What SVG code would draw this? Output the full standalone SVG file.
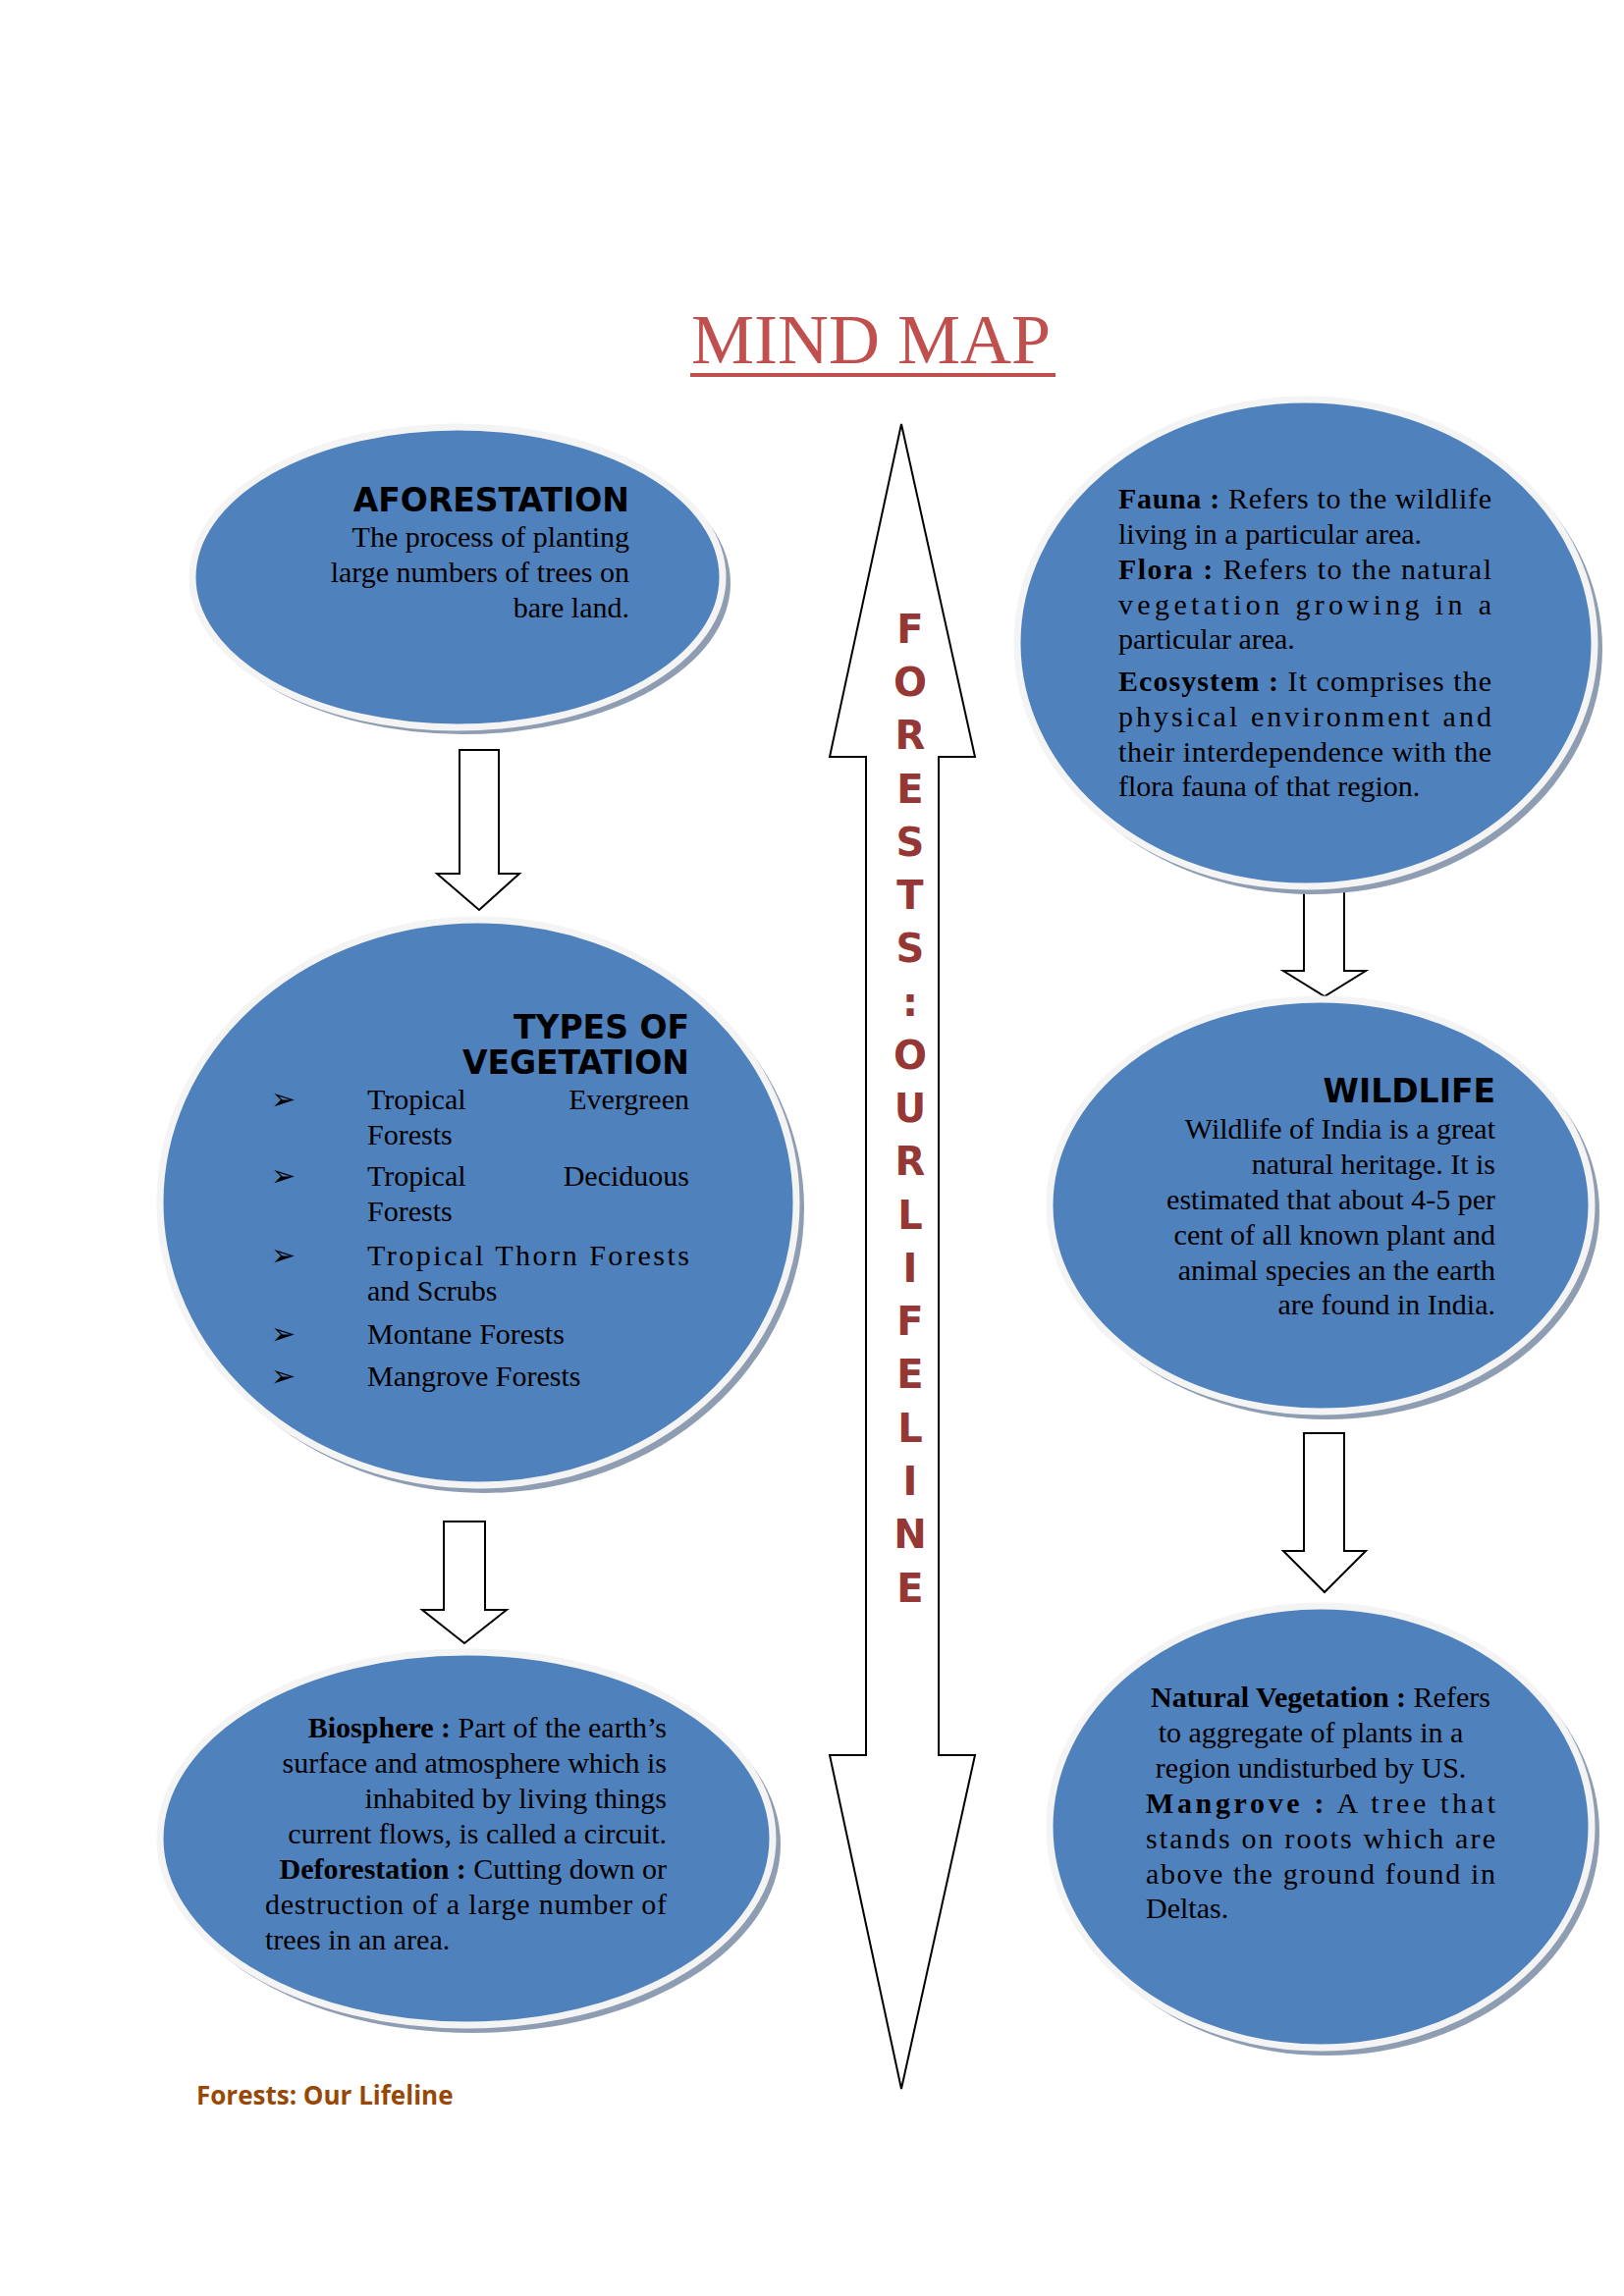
<svg xmlns="http://www.w3.org/2000/svg" width="1654" height="2339" viewBox="0 0 1654 2339">
<style>
.sh{fill:#8E9DB2}
.el{fill:#4F81BD;stroke:#F4F4F4;stroke-width:7}
.t{font-family:"Liberation Serif",serif;font-size:30px;fill:#000}
.b{font-weight:bold}
.h{font-family:"DejaVu Sans",Verdana,sans-serif;font-weight:bold;font-size:33px;fill:#000}
.e{text-anchor:end}
.m{text-anchor:middle}
.ar{fill:#fff;stroke:#000;stroke-width:2}
.L{font-family:"DejaVu Sans",Verdana,sans-serif;font-weight:bold;font-size:40px;fill:#953735;text-anchor:middle}
</style>
<rect width="1654" height="2339" fill="#fff"/>
<g id="title">
<text x="887" y="370" class="m" font-family="Liberation Serif,serif" font-size="72" fill="#C0504D">MIND MAP</text>
<rect x="703" y="380" width="372" height="4" fill="#C0504D"/>
</g>
<g id="connectors">
<polygon class="ar" points="918,432 993,771 956,771 956,1788 993,1788 918,2128 845,1788 882,1788 882,771 845,771"/>
<polygon class="ar" points="468,764 508,764 508,890 529,890 488,927 445,890 468,890"/>
<polygon class="ar" points="452,1550 494,1550 494,1640 516,1640 473,1674 430,1640 452,1640"/>
<polygon class="ar" points="1328,905 1369,905 1369,989 1391,989 1349,1015 1307,989 1328,989"/>
<polygon class="ar" points="1328,1460 1369,1460 1369,1580 1391,1580 1349,1622 1307,1580 1328,1580"/>
</g>
<g id="spine-text">
<text class="L" x="927" y="655">F</text><text class="L" x="927" y="709">O</text><text class="L" x="927" y="763">R</text><text class="L" x="927" y="818">E</text><text class="L" x="927" y="872">S</text><text class="L" x="927" y="926">T</text><text class="L" x="927" y="980">S</text><text class="L" x="927" y="1035">:</text><text class="L" x="927" y="1089">O</text><text class="L" x="927" y="1143">U</text><text class="L" x="927" y="1197">R</text><text class="L" x="927" y="1252">L</text><text class="L" x="927" y="1306">I</text><text class="L" x="927" y="1360">F</text><text class="L" x="927" y="1414">E</text><text class="L" x="927" y="1469">L</text><text class="L" x="927" y="1523">I</text><text class="L" x="927" y="1577">N</text><text class="L" x="927" y="1632">E</text>
</g>
<g id="aforestation">
<ellipse class="sh" cx="472" cy="594" rx="272" ry="154"/>
<ellipse class="el" cx="466" cy="588" rx="270" ry="153"/>
<text class="h e" x="641" y="521">AFORESTATION</text>
<text class="t e" x="641" y="557">The process of planting</text>
<text class="t e" x="641" y="593">large numbers of trees on</text>
<text class="t e" x="641" y="629">bare land.</text>
</g>
<g id="types">
<ellipse class="sh" cx="493" cy="1231" rx="326" ry="290"/>
<ellipse class="el" cx="487" cy="1225" rx="324" ry="288"/>
<text class="h e" x="702" y="1058">TYPES   OF</text>
<text class="h e" x="702" y="1094">VEGETATION</text>
<g class="t">
<text x="276" y="1130">➢</text><text x="374" y="1130">Tropical</text><text class="e" x="702" y="1130">Evergreen</text><text x="374" y="1166">Forests</text>
<text x="276" y="1208">➢</text><text x="374" y="1208">Tropical</text><text class="e" x="702" y="1208">Deciduous</text><text x="374" y="1244">Forests</text>
<text x="276" y="1289">➢</text><text x="374" y="1289" textLength="328" lengthAdjust="spacing">Tropical Thorn Forests</text><text x="374" y="1325">and Scrubs</text>
<text x="276" y="1369">➢</text><text x="374" y="1369">Montane Forests</text>
<text x="276" y="1412">➢</text><text x="374" y="1412">Mangrove Forests</text>
</g>
</g>
<g id="biosphere">
<ellipse class="sh" cx="481" cy="1879" rx="314" ry="192"/>
<ellipse class="el" cx="475" cy="1873" rx="312" ry="190"/>
<text class="t e" x="679" y="1770"><tspan class="b">Biosphere :</tspan> Part of the earth’s</text>
<text class="t e" x="679" y="1806">surface and atmosphere which is</text>
<text class="t e" x="679" y="1842">inhabited by living things</text>
<text class="t e" x="679" y="1878">current flows, is called a circuit.</text>
<text class="t e" x="679" y="1914"><tspan class="b">Deforestation :</tspan> Cutting down or</text>
<text class="t" x="270" y="1950" textLength="409" lengthAdjust="spacing">destruction of a large number of</text>
<text class="t" x="270" y="1986">trees in an area.</text>
</g>
<g id="fauna">
<ellipse class="sh" cx="1336" cy="661" rx="296" ry="250"/>
<ellipse class="el" cx="1330" cy="655" rx="294" ry="248"/>
<g class="t">
<text x="1139" y="518" textLength="380" lengthAdjust="spacing"><tspan class="b">Fauna :</tspan> Refers to the wildlife</text>
<text x="1139" y="554">living in a particular area.</text>
<text x="1139" y="590" textLength="380" lengthAdjust="spacing"><tspan class="b">Flora :</tspan> Refers to the natural</text>
<text x="1139" y="626" textLength="380" lengthAdjust="spacing">vegetation growing in a</text>
<text x="1139" y="661">particular area.</text>
<text x="1139" y="704" textLength="380" lengthAdjust="spacing"><tspan class="b">Ecosystem :</tspan> It comprises the</text>
<text x="1139" y="740" textLength="380" lengthAdjust="spacing">physical environment and</text>
<text x="1139" y="776" textLength="380" lengthAdjust="spacing">their interdependence with the</text>
<text x="1139" y="811">flora fauna of that region.</text>
</g>
</g>
<g id="wildlife">
<ellipse class="sh" cx="1351" cy="1234" rx="278" ry="212"/>
<ellipse class="el" cx="1345" cy="1228" rx="276" ry="210"/>
<text class="h e" x="1523" y="1123">WILDLIFE</text>
<g class="t e">
<text x="1523" y="1160">Wildlife of India is a great</text>
<text x="1523" y="1196">natural heritage. It is</text>
<text x="1523" y="1232">estimated that about 4-5 per</text>
<text x="1523" y="1268">cent of all known plant and</text>
<text x="1523" y="1304">animal species an the earth</text>
<text x="1523" y="1339">are found in India.</text>
</g>
</g>
<g id="vegetation">
<ellipse class="sh" cx="1351" cy="1867" rx="278" ry="227"/>
<ellipse class="el" cx="1345" cy="1861" rx="276" ry="225"/>
<g class="t">
<text class="m" x="1345" y="1739"><tspan class="b">Natural Vegetation :</tspan> Refers</text>
<text class="m" x="1335" y="1775">to aggregate of plants in a</text>
<text class="m" x="1335" y="1811">region undisturbed by US.</text>
<text x="1167" y="1847" textLength="356" lengthAdjust="spacing"><tspan class="b">Mangrove :</tspan> A tree that</text>
<text x="1167" y="1883" textLength="356" lengthAdjust="spacing">stands on roots which are</text>
<text x="1167" y="1919" textLength="356" lengthAdjust="spacing">above the ground found in</text>
<text x="1167" y="1954">Deltas.</text>
</g>
</g>
<text x="200" y="2144" font-family="Open Sans,Liberation Sans,sans-serif" font-weight="bold" font-size="26" fill="#984806">Forests: Our Lifeline</text>
</svg>
